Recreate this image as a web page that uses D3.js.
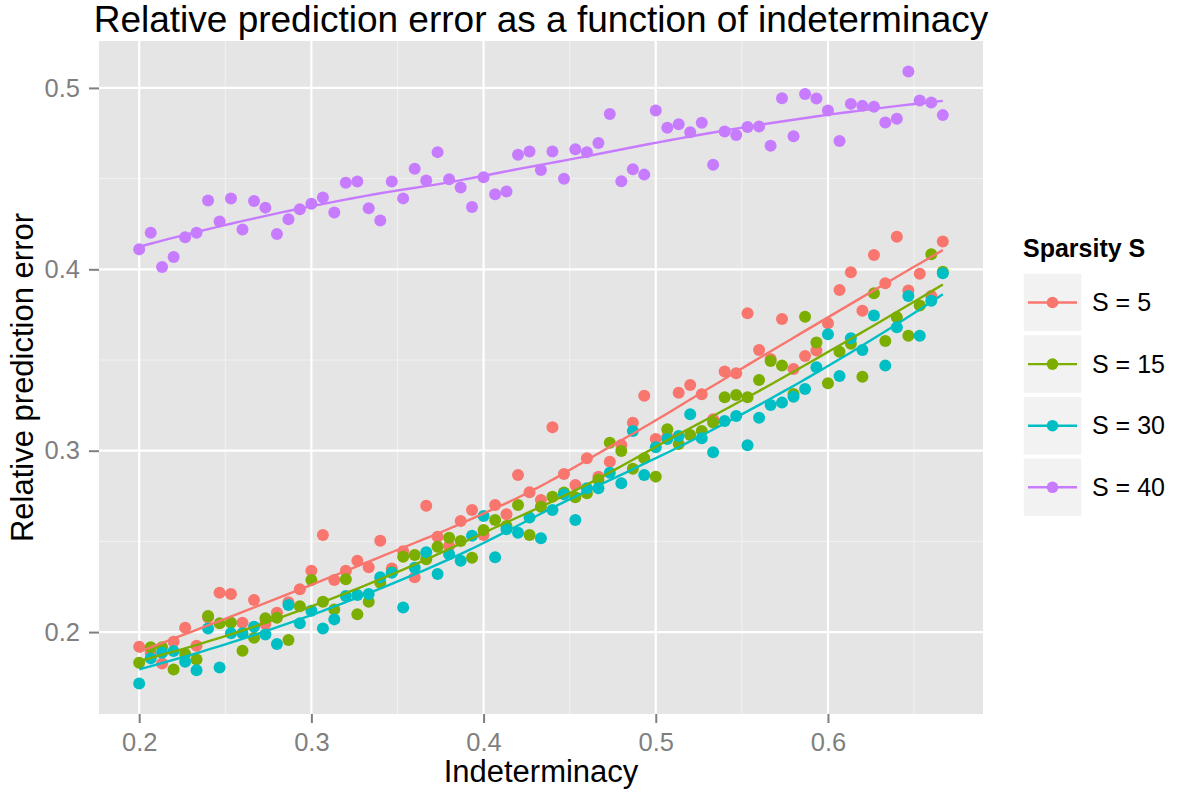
<!DOCTYPE html>
<html>
<head>
<meta charset="utf-8">
<script src="https://cdn.jsdelivr.net/npm/d3@7"></script>
<style>
  body { margin: 0; background: #fff; }
  svg { display: block; font-family: "Liberation Sans", Arial, sans-serif; }
</style>
</head>
<body>
<svg id="chart" width="1181" height="792"></svg>
<script>
// indeterminacy values (shared by all series)
const indeterminacy = [0.2000, 0.2067, 0.2133, 0.2200, 0.2267, 0.2333, 0.2400, 0.2467, 0.2533, 0.2600,
  0.2667, 0.2733, 0.2800, 0.2867, 0.2933, 0.3000, 0.3067, 0.3133, 0.3200, 0.3267,
  0.3333, 0.3400, 0.3467, 0.3533, 0.3600, 0.3667, 0.3733, 0.3800, 0.3867, 0.3933,
  0.4000, 0.4067, 0.4133, 0.4200, 0.4267, 0.4333, 0.4400, 0.4467, 0.4533, 0.4600,
  0.4667, 0.4733, 0.4800, 0.4867, 0.4933, 0.5000, 0.5067, 0.5133, 0.5200, 0.5267,
  0.5333, 0.5400, 0.5467, 0.5533, 0.5600, 0.5667, 0.5733, 0.5800, 0.5867, 0.5933,
  0.6000, 0.6067, 0.6133, 0.6200, 0.6267, 0.6333, 0.6400, 0.6467, 0.6533, 0.6600, 0.6667]

const seriesNames = ['S = 5', 'S = 15', 'S = 30', 'S = 40']

const errS5 = [0.1919, 0.1885, 0.1827, 0.1947, 0.2024, 0.1925, 0.2081, 0.2217, 0.2210, 0.2051,
  0.2177, 0.2044, 0.2107, 0.2165, 0.2236, 0.2338, 0.2535, 0.2287, 0.2338, 0.2393,
  0.2357, 0.2504, 0.2351, 0.2445, 0.2302, 0.2697, 0.2526, 0.2474, 0.2612, 0.2673,
  0.2535, 0.2700, 0.2649, 0.2866, 0.2771, 0.2728, 0.3129, 0.2871, 0.2811, 0.2958,
  0.2857, 0.2939, 0.3031, 0.3154, 0.3303, 0.3065, 0.3077, 0.3320, 0.3362, 0.3311,
  0.3173, 0.3436, 0.3427, 0.3758, 0.3555, 0.3506, 0.3726, 0.3451, 0.3522, 0.3552,
  0.3703, 0.3886, 0.3984, 0.3772, 0.4079, 0.3923, 0.4180, 0.3883, 0.3975, 0.3853, 0.4153]

const errS15 = [0.1831, 0.1916, 0.1916, 0.1794, 0.1879, 0.1849, 0.2088, 0.2048, 0.2051, 0.1897,
  0.1969, 0.2076, 0.2079, 0.1956, 0.2143, 0.2287, 0.2167, 0.2125, 0.2291, 0.2098,
  0.2167, 0.2272, 0.2330, 0.2415, 0.2425, 0.2401, 0.2470, 0.2520, 0.2502, 0.2410,
  0.2563, 0.2618, 0.2585, 0.2700, 0.2535, 0.2691, 0.2746, 0.2770, 0.2743, 0.2765,
  0.2840, 0.3044, 0.2998, 0.2901, 0.2958, 0.2857, 0.3118, 0.3037, 0.3087, 0.3109,
  0.3155, 0.3295, 0.3307, 0.3295, 0.3390, 0.3495, 0.3469, 0.3313, 0.3739, 0.3596,
  0.3372, 0.3546, 0.3589, 0.3408, 0.3868, 0.3605, 0.3736, 0.3634, 0.3800, 0.4083, 0.3987]

const errS30 = [0.1717, 0.1855, 0.1886, 0.1895, 0.1836, 0.1790, 0.2020, 0.1805, 0.1993, 0.1993,
  0.2029, 0.1987, 0.1934, 0.2149, 0.2048, 0.2117, 0.2020, 0.2070, 0.2199, 0.2204,
  0.2210, 0.2302, 0.2327, 0.2136, 0.2355, 0.2440, 0.2320, 0.2429, 0.2393, 0.2531,
  0.2640, 0.2412, 0.2567, 0.2548, 0.2631, 0.2517, 0.2673, 0.2760, 0.2618, 0.2793,
  0.2793, 0.2879, 0.2820, 0.3109, 0.2866, 0.3019, 0.3065, 0.3081, 0.3201, 0.3068,
  0.2991, 0.3164, 0.3191, 0.3030, 0.3182, 0.3252, 0.3265, 0.3298, 0.3340, 0.3460,
  0.3642, 0.3412, 0.3620, 0.3555, 0.3745, 0.3469, 0.3681, 0.3853, 0.3634, 0.3826, 0.3978]

const errS40 = [0.4110, 0.4202, 0.4013, 0.4068, 0.4177, 0.4202, 0.4379, 0.4263, 0.4390, 0.4219,
  0.4377, 0.4340, 0.4195, 0.4276, 0.4331, 0.4361, 0.4396, 0.4313, 0.4477, 0.4484,
  0.4337, 0.4269, 0.4484, 0.4391, 0.4554, 0.4489, 0.4646, 0.4497, 0.4451, 0.4344,
  0.4508, 0.4414, 0.4429, 0.4631, 0.4649, 0.4548, 0.4649, 0.4499, 0.4662, 0.4646,
  0.4696, 0.4856, 0.4486, 0.4552, 0.4522, 0.4876, 0.4780, 0.4800, 0.4755, 0.4808,
  0.4576, 0.4760, 0.4740, 0.4785, 0.4787, 0.4681, 0.4943, 0.4734, 0.4967, 0.4942,
  0.4876, 0.4707, 0.4912, 0.4901, 0.4896, 0.4809, 0.4830, 0.5090, 0.4931, 0.4920, 0.4850]

const xTicks = [0.2, 0.3, 0.4, 0.5, 0.6]
const yTicks = [0.2, 0.3, 0.4, 0.5]

const colors = ['#F8766D', '#7CAE00', '#00BFC4', '#C77CFF']
const allSeries = [errS5, errS15, errS30, errS40]

// loess (span .75, degree 2, tricube) like geom_smooth's default
function loess (xs, ys, span, evalX) {
  const n = xs.length
  const q = Math.floor(n * span)
  return evalX.map(x0 => {
    const dist = xs.map(x => Math.abs(x - x0))
    const sorted = dist.slice().sort((a, b) => a - b)
    const dmax = sorted[q - 1] * 1.0000001
    let s = [0, 0, 0, 0, 0], t = [0, 0, 0]
    for (let i = 0; i < n; i++) {
      const u = dist[i] / dmax
      if (u >= 1) continue
      const w = Math.pow(1 - u * u * u, 3)
      const dx = xs[i] - x0
      let p = 1
      for (let j = 0; j < 5; j++) { s[j] += w * p; p *= dx }
      t[0] += w * ys[i]; t[1] += w * ys[i] * dx; t[2] += w * ys[i] * dx * dx
    }
    // solve 3x3 system, we only need the intercept
    const A = [[s[0], s[1], s[2]], [s[1], s[2], s[3]], [s[2], s[3], s[4]]]
    const det = m => m[0][0] * (m[1][1] * m[2][2] - m[1][2] * m[2][1]) -
      m[0][1] * (m[1][0] * m[2][2] - m[1][2] * m[2][0]) +
      m[0][2] * (m[1][0] * m[2][1] - m[1][1] * m[2][0])
    const A0 = A.map((row, r) => [t[r], row[1], row[2]])
    return [x0, det(A0) / det(A)]
  })
}

const svg = d3.select('#chart')
const panel = {left: 99, right: 983, top: 41, bottom: 714}

const xExt = d3.extent(indeterminacy)
const xPad = (xExt[1] - xExt[0]) * 0.05
const yExt = d3.extent(allSeries.flat())
const yPad = (yExt[1] - yExt[0]) * 0.05

const x = d3.scaleLinear().domain([xExt[0] - xPad, xExt[1] + xPad]).range([panel.left, panel.right])
const y = d3.scaleLinear().domain([yExt[0] - yPad, yExt[1] + yPad]).range([panel.bottom, panel.top])

svg.append('rect')
  .attr('x', panel.left).attr('y', panel.top)
  .attr('width', panel.right - panel.left).attr('height', panel.bottom - panel.top)
  .attr('fill', '#E5E5E5')

// minor grid
const xMinor = [0.25, 0.35, 0.45, 0.55, 0.65]
const yMinor = [0.25, 0.35, 0.45]
const grid = svg.append('g')
grid.selectAll('.xm').data(xMinor).enter().append('line')
  .attr('x1', d => x(d)).attr('x2', d => x(d)).attr('y1', panel.top).attr('y2', panel.bottom)
  .attr('stroke', '#F2F2F2').attr('stroke-width', 1)
grid.selectAll('.ym').data(yMinor).enter().append('line')
  .attr('y1', d => y(d)).attr('y2', d => y(d)).attr('x1', panel.left).attr('x2', panel.right)
  .attr('stroke', '#F2F2F2').attr('stroke-width', 1)
grid.selectAll('.xM').data(xTicks).enter().append('line')
  .attr('x1', d => x(d)).attr('x2', d => x(d)).attr('y1', panel.top).attr('y2', panel.bottom)
  .attr('stroke', '#fff').attr('stroke-width', 2.2)
grid.selectAll('.yM').data(yTicks).enter().append('line')
  .attr('y1', d => y(d)).attr('y2', d => y(d)).attr('x1', panel.left).attr('x2', panel.right)
  .attr('stroke', '#fff').attr('stroke-width', 2.2)

// points
allSeries.forEach((vals, si) => {
  svg.append('g').selectAll('circle')
    .data(vals.map((v, i) => [indeterminacy[i], v]))
    .enter().append('circle')
    .attr('cx', d => x(d[0])).attr('cy', d => y(d[1]))
    .attr('r', 6)
    .attr('fill', colors[si])
})

// smooth lines
const evalX = d3.range(80).map(i => xExt[0] + (xExt[1] - xExt[0]) * i / 79)
const line = d3.line().x(d => x(d[0])).y(d => y(d[1]))
allSeries.forEach((vals, si) => {
  svg.append('path')
    .attr('d', line(loess(indeterminacy, vals, 0.75, evalX)))
    .attr('fill', 'none')
    .attr('stroke', colors[si])
    .attr('stroke-width', 2.4)
})

// axes
const xAxis = svg.append('g')
  .attr('transform', 'translate(0,' + panel.bottom + ')')
  .call(d3.axisBottom(x).tickValues(xTicks).tickFormat(d3.format('.1f')).tickSize(9).tickPadding(10))
const yAxis = svg.append('g')
  .attr('transform', 'translate(' + panel.left + ',0)')
  .call(d3.axisLeft(y).tickValues(yTicks).tickFormat(d3.format('.1f')).tickSize(10).tickPadding(9))
;[xAxis, yAxis].forEach(a => {
  a.select('.domain').remove()
  a.selectAll('.tick line').attr('stroke', '#7F7F7F').attr('stroke-width', 2)
  a.selectAll('.tick text').attr('fill', '#7F7F7F').style('font-size', '25.5px')
    .style('font-family', '"Liberation Sans", Arial, sans-serif')
})

const cx = (panel.left + panel.right) / 2
svg.append('text').attr('x', cx).attr('y', 32)
  .attr('text-anchor', 'middle').style('font-size', '37px')
  .text('Relative prediction error as a function of indeterminacy')
svg.append('text').attr('x', cx).attr('y', 782)
  .attr('text-anchor', 'middle').style('font-size', '31px')
  .text('Indeterminacy')
svg.append('text')
  .attr('transform', 'translate(33,' + ((panel.top + panel.bottom) / 2) + ') rotate(-90)')
  .attr('text-anchor', 'middle').style('font-size', '31px')
  .text('Relative prediction error')

// legend
const legend = svg.append('g').attr('transform', 'translate(1023,0)')
legend.append('text').attr('x', 0).attr('y', 257)
  .style('font-size', '25px').style('font-weight', 'bold')
  .text('Sparsity S')
const keys = legend.selectAll('.key').data(seriesNames).enter().append('g')
  .attr('transform', (d, i) => 'translate(0,' + (273 + i * 61.6) + ')')
keys.append('rect').attr('width', 59).attr('height', 59)
  .attr('fill', '#F2F2F2').attr('stroke', '#fff').attr('stroke-width', 1.5)
keys.append('line').attr('x1', 5).attr('x2', 54).attr('y1', 29.5).attr('y2', 29.5)
  .attr('stroke', (d, i) => colors[i]).attr('stroke-width', 2.4)
keys.append('circle').attr('cx', 29.5).attr('cy', 29.5).attr('r', 5.8)
  .attr('fill', (d, i) => colors[i])
keys.append('text').attr('x', 69).attr('y', 29.5).attr('dy', '0.35em')
  .style('font-size', '25px')
  .text(d => d)
</script>
</body>
</html>
